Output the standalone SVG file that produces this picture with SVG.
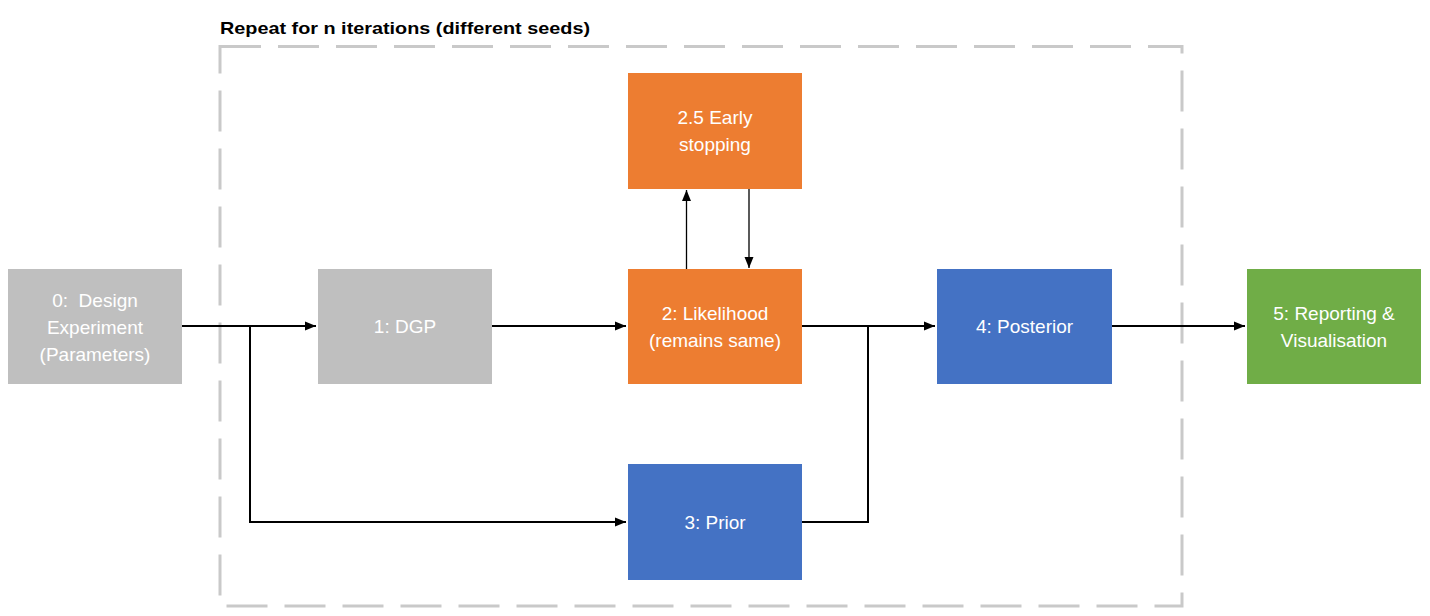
<svg xmlns="http://www.w3.org/2000/svg" width="1430" height="616" viewBox="0 0 1430 616">
<style>
.lbl{font-family:"Liberation Sans",Arial,sans-serif;font-size:19px;fill:#ffffff;text-anchor:middle}
.title{font-family:"Liberation Sans",Arial,sans-serif;font-size:17px;font-weight:bold;fill:#000000}
.conn{fill:none;stroke:#000000;stroke-width:2}
.thin{fill:none;stroke:#000000;stroke-width:1.3}
.grey{fill:#bfbfbf}
.orange{fill:#ed7d31}
.blue{fill:#4472c4}
.green{fill:#70ad47}
</style>
<defs>
<marker id="ah" markerUnits="userSpaceOnUse" markerWidth="12" markerHeight="12" viewBox="0 0 12 12" refX="11" refY="6" orient="auto">
<path d="M0,1.5 L11,6 L0,10.5 Z" fill="#000000"/>
</marker>
</defs>
<rect width="1430" height="616" fill="#ffffff"/>
<g id="loop-frame">
<rect x="220" y="46.5" width="962" height="559.5" fill="none" stroke="#c9c9c9" stroke-width="3" stroke-dasharray="41 17"/>
<text class="title" x="220" y="34" textLength="370" lengthAdjust="spacingAndGlyphs">Repeat for n iterations (different seeds)</text>
</g>
<g id="connectors">
<polyline class="conn" points="182,326 316,326" marker-end="url(#ah)"/>
<polyline class="conn" points="250,326 250,522 626,522" marker-end="url(#ah)"/>
<polyline class="conn" points="492,326 626,326" marker-end="url(#ah)"/>
<polyline class="thin" points="686.5,269 686.5,190" marker-end="url(#ah)"/>
<polyline class="thin" points="749,189 749,268" marker-end="url(#ah)"/>
<polyline class="conn" points="802,326 935,326" marker-end="url(#ah)"/>
<polyline class="conn" points="802,522 868,522 868,326"/>
<polyline class="conn" points="1112,326 1245,326" marker-end="url(#ah)"/>
</g>
<g id="node0">
<rect class="grey" x="8" y="269" width="174" height="115"/>
<text class="lbl" x="95" y="307" style="white-space:pre">0:  Design</text>
<text class="lbl" x="95" y="334">Experiment</text>
<text class="lbl" x="95" y="361">(Parameters)</text>
</g>
<g id="node1">
<rect class="grey" x="318" y="269" width="174" height="115"/>
<text class="lbl" x="405" y="333">1: DGP</text>
</g>
<g id="node2_5">
<rect class="orange" x="628" y="73" width="174" height="116"/>
<text class="lbl" x="715" y="124">2.5 Early</text>
<text class="lbl" x="715" y="151">stopping</text>
</g>
<g id="node2">
<rect class="orange" x="628" y="269" width="174" height="115"/>
<text class="lbl" x="715" y="320">2: Likelihood</text>
<text class="lbl" x="715" y="347">(remains same)</text>
</g>
<g id="node3">
<rect class="blue" x="628" y="464" width="174" height="116"/>
<text class="lbl" x="715" y="529">3: Prior</text>
</g>
<g id="node4">
<rect class="blue" x="937" y="269" width="175" height="115"/>
<text class="lbl" x="1024.5" y="333">4: Posterior</text>
</g>
<g id="node5">
<rect class="green" x="1247" y="269" width="174" height="115"/>
<text class="lbl" x="1334" y="320">5: Reporting &amp;</text>
<text class="lbl" x="1334" y="347">Visualisation</text>
</g>
</svg>
